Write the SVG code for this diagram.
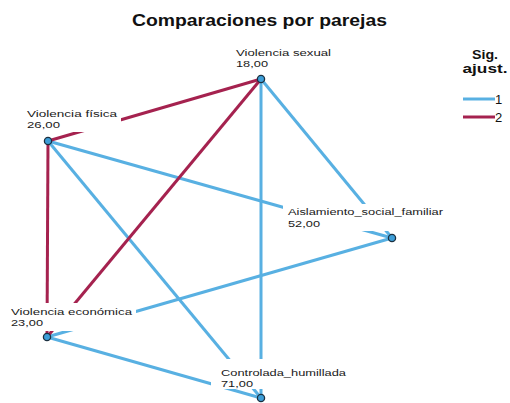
<svg xmlns="http://www.w3.org/2000/svg" width="510" height="403" viewBox="0 0 510 403">
<style>
.e1{stroke:#58b0e2;stroke-width:3;fill:none}
.e2{stroke:#a5224f;stroke-width:3;fill:none}
.bg{fill:#ffffff}
.lbl{font-family:"Liberation Sans",Arial,sans-serif;font-size:9.6px;fill:#1a1a1a}
.node{fill:#3d9ed8;stroke:#1b3040;stroke-width:1.3}
.title{font-family:"Liberation Sans",Arial,sans-serif;font-weight:bold;font-size:17px;fill:#111}
.lt{font-family:"Liberation Sans",Arial,sans-serif;font-weight:bold;font-size:12.5px;fill:#111}
.li{font-family:"Liberation Sans",Arial,sans-serif;font-size:13px;fill:#111}
</style>
<rect width="510" height="403" fill="#ffffff"/>
<text class="title" x="132" y="26" textLength="255" lengthAdjust="spacingAndGlyphs">Comparaciones por parejas</text>
<g id="connectors">
<line class="e1" x1="48" y1="141" x2="392" y2="238"/>
<line class="e1" x1="48" y1="141" x2="261" y2="398"/>
<line class="e1" x1="261" y1="79" x2="261" y2="398"/>
<line class="e1" x1="261" y1="79" x2="392" y2="238"/>
<line class="e1" x1="47" y1="337" x2="392" y2="238"/>
<line class="e1" x1="47" y1="337" x2="261" y2="398"/>
<line class="e2" x1="261" y1="79" x2="48" y2="141"/>
<line class="e2" x1="261" y1="79" x2="47" y2="337"/>
<line class="e2" x1="48" y1="141" x2="47" y2="337"/>
</g>
<g id="n-sexual">
<rect class="bg" x="231" y="44" width="106" height="26"/>
<text class="lbl" x="236" y="56" textLength="95" lengthAdjust="spacingAndGlyphs">Violencia sexual</text>
<text class="lbl" x="236" y="66.5" textLength="32" lengthAdjust="spacingAndGlyphs">18,00</text>
<circle class="node" cx="261" cy="79" r="3.6"/>
</g>
<g id="n-fisica">
<rect class="bg" x="22" y="105" width="99" height="27"/>
<text class="lbl" x="27" y="116.5" textLength="90" lengthAdjust="spacingAndGlyphs">Violencia física</text>
<text class="lbl" x="27" y="127.5" textLength="33" lengthAdjust="spacingAndGlyphs">26,00</text>
<circle class="node" cx="48" cy="141" r="3.6"/>
</g>
<g id="n-aislamiento">
<rect class="bg" x="283" y="204" width="165" height="27"/>
<text class="lbl" x="288" y="215" textLength="155" lengthAdjust="spacingAndGlyphs">Aislamiento_social_familiar</text>
<text class="lbl" x="288" y="227" textLength="32" lengthAdjust="spacingAndGlyphs">52,00</text>
<circle class="node" cx="392" cy="238" r="3.6"/>
</g>
<g id="n-economica">
<rect class="bg" x="6" y="303" width="130" height="28"/>
<text class="lbl" x="11" y="314.5" textLength="121" lengthAdjust="spacingAndGlyphs">Violencia económica</text>
<text class="lbl" x="11" y="325.5" textLength="32" lengthAdjust="spacingAndGlyphs">23,00</text>
<circle class="node" cx="47" cy="337" r="3.6"/>
</g>
<g id="n-controlada">
<rect class="bg" x="211" y="359" width="140" height="30"/>
<text class="lbl" x="221" y="375.5" textLength="125" lengthAdjust="spacingAndGlyphs">Controlada_humillada</text>
<text class="lbl" x="221" y="386.5" textLength="32" lengthAdjust="spacingAndGlyphs">71,00</text>
<circle class="node" cx="261" cy="398" r="3.6"/>
</g>
<g id="legend">
<text class="lt" x="485" y="58.5" text-anchor="middle" textLength="26" lengthAdjust="spacingAndGlyphs">Sig.</text>
<text class="lt" x="485" y="73" text-anchor="middle" textLength="45" lengthAdjust="spacingAndGlyphs">ajust.</text>
<line class="e1" x1="463" y1="99" x2="495" y2="99"/>
<text class="li" x="495" y="104">1</text>
<line class="e2" x1="463" y1="117" x2="495" y2="117"/>
<text class="li" x="495" y="122">2</text>
</g>
</svg>
